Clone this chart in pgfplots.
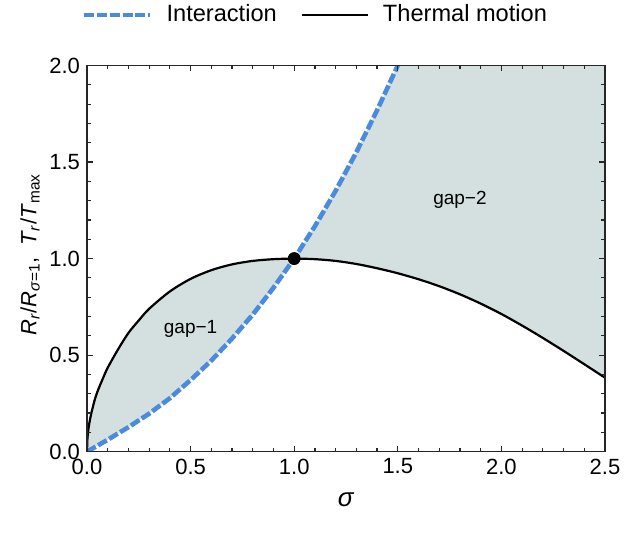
\documentclass[border=0pt]{standalone}
\usepackage{fontspec}
\setmainfont{Liberation Sans}
\usepackage{pgfplots}
\pgfplotsset{compat=1.18}
\usepgfplotslibrary{fillbetween}
\usepackage{pgfplotstable}

\definecolor{intblue}{RGB}{74,139,220}
\definecolor{gapfill}{RGB}{212,223,223}

% thermal motion curve T_r/T_max
\pgfplotstableread{
s T
0 0
0.002 0.065
0.005 0.10
0.01 0.14
0.02 0.195
0.035 0.26
0.05 0.31
0.075 0.375
0.1 0.435
0.15 0.53
0.2 0.615
0.25 0.68
0.3 0.74
0.4 0.83
0.5 0.895
0.6 0.94
0.7 0.97
0.8 0.988
0.9 0.997
1.0 1.0
1.1 0.997
1.2 0.988
1.3 0.972
1.4 0.95
1.5 0.924
1.6 0.893
1.7 0.857
1.8 0.815
1.9 0.767
2.0 0.713
2.1 0.653
2.2 0.589
2.3 0.522
2.4 0.453
2.5 0.383
}\thermal

% interaction curve R_r/R_{sigma=1}
\pgfplotstableread{
s R
0 0
0.1 0.062
0.2 0.127
0.3 0.197
0.4 0.277
0.5 0.371
0.6 0.472
0.7 0.586
0.8 0.71
0.9 0.849
1.0 1.0
1.1 1.168
1.2 1.351
1.3 1.551
1.4 1.768
1.5 2.0
}\interaction

\begin{document}
\begin{tikzpicture}
\begin{axis}[
  scale only axis,
  width=259pt, height=193.1pt,
  xmin=0, xmax=2.5, ymin=0, ymax=2,
  xtick={0,0.5,...,2.5}, ytick={0,0.5,...,2},
  minor x tick num=4, minor y tick num=4,
  tick pos=both, tick align=inside,
  major tick length=3pt, minor tick length=1.8pt,
  axis line style={black!85, line width=0.65pt},
  every tick/.style={black!85, line width=0.6pt},
  xticklabels={0.0,0.5,1.0,1.5,2.0,2.5},
  yticklabels={0.0,0.5,1.0,1.5,2.0},
  tick label style={font=\fontsize{11}{13}\selectfont},
  xlabel={\textit{σ}},
  xlabel style={at={(axis description cs:0.5,0)}, anchor=center, yshift=-24pt,
    font=\fontsize{13}{15}\selectfont},
  ylabel={\textit{R}\textsubscript{\textit{r}}/\textit{R}\textsubscript{\textit{σ}=1},\enspace
    \textit{T}\textsubscript{\textit{r}}/\textit{T}\textsubscript{max}},
  ylabel style={at={(axis description cs:-0.110,0.51)}, anchor=center,
    font=\fontsize{11}{13}\selectfont},
  axis on top,
  legend columns=2,
  legend style={draw=none, fill=none, at={(0.443,1.131)}, anchor=center,
    font=\fontsize{11.8}{13}\selectfont,
    /tikz/every odd column/.append style={column sep=5pt},
    /tikz/every even column/.append style={column sep=10pt}},
  legend image code/.code={\draw[#1] (0pt,0pt) -- (33pt,0pt);},
  clip=true,
]
\addplot[draw=none, name path=th, forget plot] table[x=s, y=T] {\thermal};
\addplot[draw=none, name path=int, forget plot] table[x=s, y=R] {\interaction};
\addplot[draw=none, name path=top, forget plot] coordinates {(0,2) (2.5,2)};

\addplot[fill=gapfill, draw=none, forget plot] fill between[of=th and int, soft clip={domain=0:1.5}];
\addplot[fill=gapfill, draw=none, forget plot] fill between[of=th and top, soft clip={domain=1.5:2.5}];

\addplot[intblue, line width=2.3pt, dash pattern=on 5pt off 1.4pt] table[x=s, y=R] {\interaction};
\addlegendentry{Interaction}
\addplot[black, line width=1.1pt, smooth] table[x=s, y=T] {\thermal};
\addlegendentry{Thermal motion}

\addplot[only marks, mark=*, mark size=3pt, black, forget plot] coordinates {(1,1)};

\node[font=\fontsize{9.5}{11}\selectfont] at (axis cs:0.5,0.635) {gap−1};
\node[font=\fontsize{9.5}{11}\selectfont] at (axis cs:1.8,1.305) {gap−2};

\coordinate (bl) at (rel axis cs:0,0);
\coordinate (tr) at (rel axis cs:1,1);
\end{axis}
\pgfresetboundingbox
\path[use as bounding box] ([shift={(-43.5pt,-40.65pt)}]bl) rectangle ([shift={(18.5pt,32.75pt)}]tr);
\end{tikzpicture}
\end{document}
